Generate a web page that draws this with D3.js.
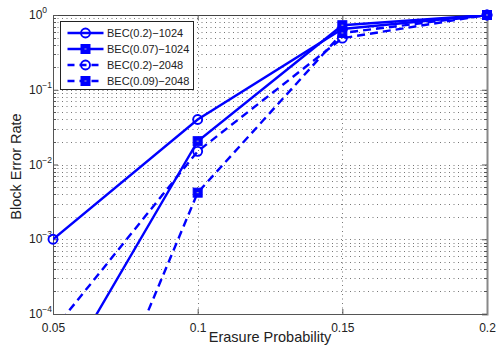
<!DOCTYPE html>
<html>
<head>
<meta charset="utf-8">
<script src="https://cdn.jsdelivr.net/npm/d3@7"></script>
<style>
  body { margin: 0; background: #fff; }
  svg { display: block; font-family: "Liberation Sans", Arial, sans-serif; }
</style>
</head>
<body>
<div id="chart"></div>
<script>
// erasure probabilities on the x axis
var probs = [0.05, 0.1, 0.15, 0.2];

// block error rate per curve
var bec02_1024 = [1e-3, 0.04, 0.65, 1];
var bec007_1024 = [1e-5, 0.0205, 0.73, 1];
var bec02_2048 = [6e-5, 0.015, 0.49, 1];
var bec009_2048 = [1e-7, 0.0042, 0.575, 1];

var seriesNames = ["BEC(0.2)\u22121024", "BEC(0.07)\u22121024", "BEC(0.2)\u22122048", "BEC(0.09)\u22122048"];
var xTicks = [0.05, 0.1, 0.15, 0.2];
var yTicks = [1e-4, 1e-3, 1e-2, 1e-1, 1];

var series = [
  {name: seriesNames[0], values: bec02_1024, marker: "circle", dash: null},
  {name: seriesNames[1], values: bec007_1024, marker: "square", dash: null},
  {name: seriesNames[2], values: bec02_2048, marker: "circle", dash: "8,5"},
  {name: seriesNames[3], values: bec009_2048, marker: "square", dash: "8,5"}
];

var width = 496, height = 349;
var margin = {top: 15, right: 9, bottom: 35, left: 53};
var w = width - margin.left - margin.right,
    h = height - margin.top - margin.bottom;
var blue = "#0000ff";

var svg = d3.select("#chart").append("svg")
    .attr("width", width)
    .attr("height", height);

var g = svg.append("g")
    .attr("transform", "translate(" + margin.left + "," + margin.top + ")");

var x = d3.scaleLinear().domain([0.05, 0.2]).range([0, w]);
var y = d3.scaleLog().domain([1e-4, 1]).range([h, 0]);

// minor positions 2..9 for each decade
var minor = [];
for (var e = -4; e < 0; e++) {
  for (var k = 2; k < 10; k++) minor.push(k * Math.pow(10, e));
}

g.append("defs").append("clipPath").attr("id", "clip")
  .append("rect").attr("width", w).attr("height", h);

// dotted grid
g.selectAll("line.hgrid")
  .data(minor.concat(yTicks.slice(1, 4)))
  .enter().append("line")
    .attr("class", "hgrid")
    .attr("x1", 0).attr("x2", w)
    .attr("y1", function(d){ return Math.round(y(d)) + 0.5; })
    .attr("y2", function(d){ return Math.round(y(d)) + 0.5; })
    .attr("stroke", "#777")
    .attr("stroke-width", 1)
    .attr("stroke-dasharray", "1,3.5");

g.selectAll("line.vgrid")
  .data(xTicks.slice(1, 3))
  .enter().append("line")
    .attr("class", "vgrid")
    .attr("y1", 0).attr("y2", h)
    .attr("x1", function(d){ return Math.round(x(d)) + 0.5; })
    .attr("x2", function(d){ return Math.round(x(d)) + 0.5; })
    .attr("stroke", "#777")
    .attr("stroke-width", 1)
    .attr("stroke-dasharray", "1,3.5");

// axes with inward ticks
var fmtX = function(d){ return d3.format("")(+d.toFixed(2)); };
g.append("g")
  .attr("transform", "translate(0," + h + ")")
  .call(d3.axisBottom(x).tickValues(xTicks).tickSize(-5).tickPadding(9).tickFormat(fmtX))
  .call(function(a){
    a.select(".domain").attr("stroke", "#555");
    a.selectAll("line").attr("stroke", "#555");
    a.selectAll("text").attr("font-size", "12px").attr("fill", "#222")
      .attr("font-family", "Liberation Sans, Arial, sans-serif");
  });

g.append("g")
  .call(d3.axisTop(x).tickValues(xTicks).tickSize(-5).tickFormat(""))
  .call(function(a){
    a.select(".domain").attr("stroke", "#444");
    a.selectAll("line").attr("stroke", "#555");
  });

g.append("g")
  .call(d3.axisLeft(y).tickValues(yTicks).tickSize(-5).tickFormat(""))
  .call(function(a){
    a.select(".domain").attr("stroke", "#555");
    a.selectAll("line").attr("stroke", "#555");
  });

g.append("g")
  .attr("transform", "translate(" + w + ",0)")
  .call(d3.axisRight(y).tickValues(yTicks).tickSize(-5).tickFormat(""))
  .call(function(a){
    a.select(".domain").attr("stroke", "#888").attr("stroke-width", 2);
    a.selectAll("line").attr("stroke", "#555");
  });

// minor ticks left and right
g.selectAll("line.minL")
  .data(minor).enter().append("line")
    .attr("x1", 0).attr("x2", 3)
    .attr("y1", function(d){ return Math.round(y(d)) + 0.5; })
    .attr("y2", function(d){ return Math.round(y(d)) + 0.5; })
    .attr("stroke", "#555");
g.selectAll("line.minR")
  .data(minor).enter().append("line")
    .attr("x1", w - 3).attr("x2", w)
    .attr("y1", function(d){ return Math.round(y(d)) + 0.5; })
    .attr("y2", function(d){ return Math.round(y(d)) + 0.5; })
    .attr("stroke", "#555");

// y tick labels as 10^n
var ylab = g.selectAll("text.ylab")
  .data(yTicks).enter().append("text")
    .attr("class", "ylab")
    .attr("x", -24)
    .attr("y", function(d){ return y(d) + 4; })
    .attr("font-size", "12px")
    .attr("fill", "#222");
ylab.append("tspan").text("10");
ylab.append("tspan")
  .attr("dy", -6)
  .attr("font-size", "8.5px")
  .text(function(d){ var n = Math.round(Math.log10(d)); return n === 0 ? "0" : "\u2212" + (-n); });

// axis titles
svg.append("text")
  .attr("x", margin.left + w / 2)
  .attr("y", 342)
  .attr("text-anchor", "middle")
  .attr("font-size", "14.5px")
  .attr("fill", "#222")
  .text("Erasure Probability");

svg.append("text")
  .attr("transform", "translate(21," + (margin.top + h / 2 + 2) + ") rotate(-90)")
  .attr("text-anchor", "middle")
  .attr("font-size", "14.5px")
  .attr("fill", "#222")
  .text("Block Error Rate");

// curves
var line = d3.line()
  .x(function(d, i){ return x(probs[i]); })
  .y(function(d){ return y(d); });

var plot = g.append("g").attr("clip-path", "url(#clip)");

series.forEach(function(s){
  plot.append("path")
    .datum(s.values)
    .attr("d", line)
    .attr("fill", "none")
    .attr("stroke", blue)
    .attr("stroke-width", 2.4)
    .attr("stroke-dasharray", s.dash);
});

function drawMarker(sel, type, cx, cy){
  if (type === "circle") {
    sel.append("circle")
      .attr("cx", cx).attr("cy", cy).attr("r", 4.5)
      .attr("fill", "none").attr("stroke", blue).attr("stroke-width", 1.9);
  } else {
    sel.append("rect")
      .attr("x", cx - 4.5).attr("y", cy - 4.5)
      .attr("width", 9).attr("height", 9)
      .attr("fill", blue).attr("stroke", blue).attr("stroke-width", 1);
    sel.append("rect")
      .attr("x", cx - 1).attr("y", cy - 0.5)
      .attr("width", 2).attr("height", 1)
      .attr("fill", "#aab");
  }
}

var markers = g.append("g");
series.forEach(function(s){
  s.values.forEach(function(v, i){
    if (v >= 1e-4) drawMarker(markers, s.marker, x(probs[i]), y(v));
  });
});

// legend
var leg = svg.append("g").attr("transform", "translate(60.5,21.5)");
leg.append("rect")
  .attr("width", 133).attr("height", 68)
  .attr("fill", "#fff").attr("stroke", "#222").attr("stroke-width", 1);

series.forEach(function(s, i){
  var ly = 11.5 + i * 16;
  leg.append("line")
    .attr("x1", 7).attr("x2", 43)
    .attr("y1", ly).attr("y2", ly)
    .attr("stroke", blue).attr("stroke-width", 2.4)
    .attr("stroke-dasharray", s.dash ? "7,5" : null);
  drawMarker(leg, s.marker, 25, ly);
  leg.append("text")
    .attr("x", 46.5).attr("y", ly + 4)
    .attr("font-size", "11px")
    .attr("fill", "#222")
    .text(s.name);
});
</script>
</body>
</html>
